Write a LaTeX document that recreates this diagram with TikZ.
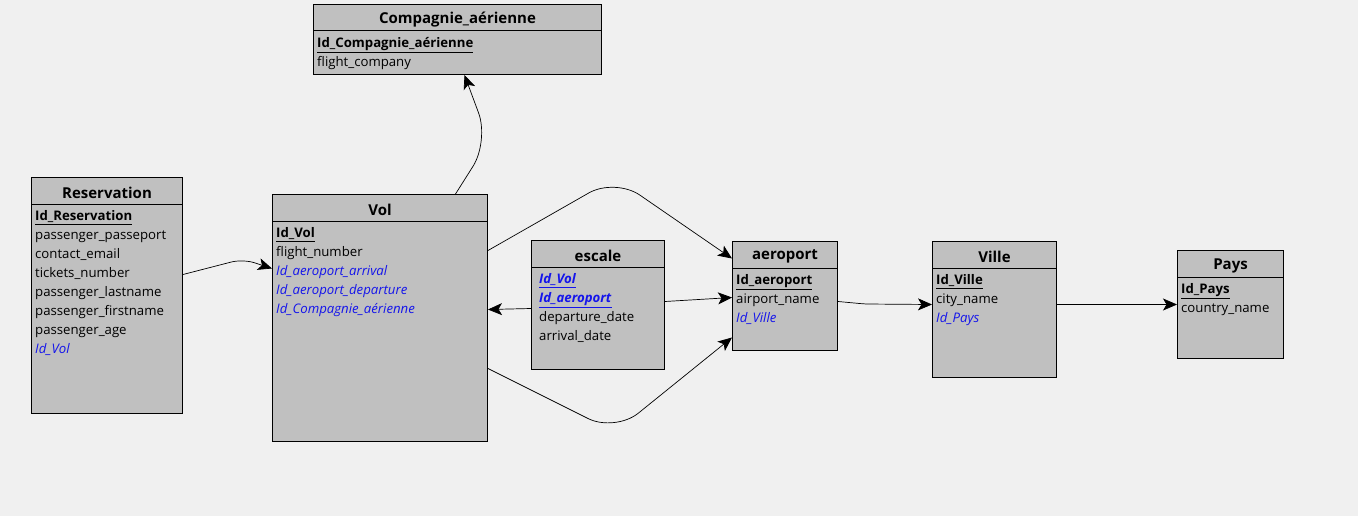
\documentclass[tikz,border=0pt]{standalone}
\usepackage{fontspec}
\setmainfont{Open Sans}
\usetikzlibrary{arrows.meta, positioning, calc}

\definecolor{bgcolor}{RGB}{240,240,240}
\definecolor{boxcolor}{RGB}{192,192,192}
\definecolor{fkcolor}{RGB}{20,20,235}

\newcommand{\pk}[1]{\underline{\textbf{#1}}}
\newcommand{\fk}[1]{{\color{fkcolor}\itshape #1}}
\newcommand{\pfk}[1]{{\color{fkcolor}\underline{\textbf{\itshape #1}}}}

\begin{document}
\begin{tikzpicture}[x=1pt, y=-1pt]
% styles des tables
\tikzset{
  table/.style={rectangle, draw, fill=boxcolor, line width=1pt, anchor=north west, inner sep=0pt},
  tabletitle/.style={inner sep=0pt, minimum height=27pt, yshift=-2pt, font=\fontsize{15}{17}\selectfont\bfseries},
  fields/.style={anchor=north west, inner sep=0pt, align=left, font=\fontsize{13.2}{19}\selectfont},
  fkline/.style={draw, line width=0.7pt, -{Stealth[length=14pt, width=12pt, inset=3.5pt]}}
}
\useasboundingbox[fill=bgcolor] (0,0) rectangle (1358,516);

% tables
\node[table, minimum width=288pt, minimum height=70pt] (comp) at (313,4) {};
\node[table, minimum width=151pt, minimum height=236pt] (res) at (31,177) {};
\node[table, minimum width=215pt, minimum height=247pt] (vol) at (272,194) {};
\node[table, minimum width=133pt, minimum height=129pt] (esc) at (531,240) {};
\node[table, minimum width=105pt, minimum height=109pt] (aer) at (732,241) {};
\node[table, minimum width=124pt, minimum height=136pt] (vil) at (932,241) {};
\node[table, minimum width=106pt, minimum height=108pt] (pay) at (1177,250) {};

% titres
\node[tabletitle, below=0pt of comp.north] (comptitle) {Compagnie\_aérienne};
\node[tabletitle, below=0pt of res.north] (restitle) {Reservation};
\node[tabletitle, below=0pt of vol.north] (voltitle) {Vol};
\node[tabletitle, below=0pt of esc.north] (esctitle) {escale};
\node[tabletitle, below=0pt of aer.north] (aertitle) {aeroport};
\node[tabletitle, below=0pt of vil.north] (viltitle) {Ville};
\node[tabletitle, below=0pt of pay.north] (paytitle) {Pays};
\foreach \t in {comp, res, vol, esc, aer, vil, pay}
  \draw[line width=1pt] ([yshift=-27pt]\t.north west) -- ([yshift=-27pt]\t.north east);

% champs
\node[fields] (compfields) at ([shift={(4pt,-33pt)}]comp.north west)
  {\pk{Id\_Compagnie\_aérienne}\\ flight\_company};
\node[fields] (resfields) at ([shift={(4pt,-33pt)}]res.north west)
  {\pk{Id\_Reservation}\\ passenger\_passeport\\ contact\_email\\ tickets\_number\\
   passenger\_lastname\\ passenger\_firstname\\ passenger\_age\\ \fk{Id\_Vol}};
\node[fields] (volfields) at ([shift={(4pt,-33pt)}]vol.north west)
  {\pk{Id\_Vol}\\ flight\_number\\ \fk{Id\_aeroport\_arrival}\\
   \fk{Id\_aeroport\_departure}\\ \fk{Id\_Compagnie\_aérienne}};
\node[fields] (escfields) at ([shift={(8pt,-33pt)}]esc.north west)
  {\pfk{Id\_Vol}\\ \pfk{Id\_aeroport}\\ departure\_date\\ arrival\_date};
\node[fields] (aerfields) at ([shift={(4pt,-33pt)}]aer.north west)
  {\pk{Id\_aeroport}\\ airport\_name\\ \fk{Id\_Ville}};
\node[fields] (vilfields) at ([shift={(4pt,-33pt)}]vil.north west)
  {\pk{Id\_Ville}\\ city\_name\\ \fk{Id\_Pays}};
\node[fields] (payfields) at ([shift={(4pt,-33pt)}]pay.north west)
  {\pk{Id\_Pays}\\ country\_name};

% liens
\path[fkline, rounded corners=12pt] ([yshift=21pt]res.east) -- (243,259) -- ([yshift=49.5pt]vol.west);
\path[fkline, rounded corners=30pt] ([xshift=75.5pt]vol.north) -- (489,141) -- ([xshift=7pt]comp.south);
\path[fkline, rounded corners=30pt] ([yshift=67.5pt]vol.east) -- (615,178) -- ([yshift=37.5pt]aer.west);
\path[fkline, rounded corners=30pt] ([yshift=-50.5pt]vol.east) -- (615,432) -- ([yshift=-41.5pt]aer.west);
\path[fkline] ([yshift=-3.5pt]esc.west) -- ([yshift=8.5pt]vol.east);
\path[fkline] ([yshift=3.5pt]esc.east) -- ([yshift=-1.5pt]aer.west);
\path[fkline, rounded corners=4pt] ([yshift=-5.5pt]aer.east) -- (865,304) -- ([yshift=5pt]vil.west);
\path[fkline] ([yshift=5pt]vil.east) -- (pay.west);
\end{tikzpicture}
\end{document}
